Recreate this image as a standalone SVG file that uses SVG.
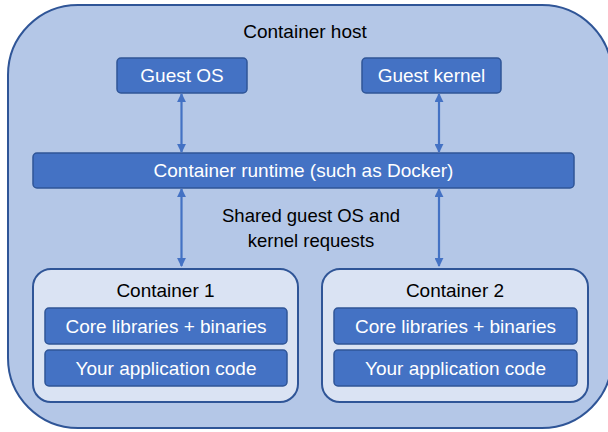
<svg xmlns="http://www.w3.org/2000/svg" width="608" height="432" viewBox="0 0 608 432">
<defs>
<style>
text{font-family:"Liberation Sans",Arial,sans-serif;font-size:19px;text-anchor:middle}
.dark{fill:#000}
.light{fill:#fff}
.box{fill:#4472c4;stroke:#2f5597;stroke-width:1.5}
.cont{fill:#dae3f3;stroke:#2f5597;stroke-width:2}
.conn{stroke:#4472c4;stroke-width:2.2;fill:none;marker-start:url(#ah);marker-end:url(#ah)}
</style>
<marker id="ah" viewBox="0 0 10 10" refX="9" refY="5" markerWidth="9" markerHeight="9" markerUnits="userSpaceOnUse" orient="auto-start-reverse">
<path d="M0,0 L10,5 L0,10 z" fill="#4472c4"/>
</marker>
</defs>
<g id="host">
<rect x="8" y="5" width="604" height="423" rx="70" ry="70" fill="#b4c7e7" stroke="#2f5597" stroke-width="2"/>
<text x="305" y="38" class="dark">Container host</text>
</g>
<g id="guest-os">
<rect class="box" x="117" y="58" width="130" height="35" rx="4"/>
<text x="182" y="82" class="light">Guest OS</text>
</g>
<g id="guest-kernel">
<rect class="box" x="362" y="58" width="139" height="35" rx="4"/>
<text x="431.5" y="82" class="light">Guest kernel</text>
</g>
<g id="runtime">
<rect class="box" x="33" y="153" width="541" height="35" rx="4"/>
<text x="303.5" y="176.5" class="light">Container runtime (such as Docker)</text>
</g>
<g id="shared-label">
<text x="311" y="222" class="dark" style="font-size:18.5px">Shared guest OS and</text>
<text x="311" y="247" class="dark" style="font-size:18.5px">kernel requests</text>
</g>
<g id="container1">
<rect class="cont" x="33" y="269" width="265" height="133" rx="18"/>
<text x="165.5" y="297" class="dark">Container 1</text>
<rect class="box" x="45" y="308" width="242" height="36" rx="4"/>
<text x="166" y="333" class="light">Core libraries + binaries</text>
<rect class="box" x="45" y="350" width="242" height="36" rx="4"/>
<text x="166" y="375" class="light">Your application code</text>
</g>
<g id="container2">
<rect class="cont" x="322" y="269" width="266" height="133" rx="18"/>
<text x="455" y="297" class="dark">Container 2</text>
<rect class="box" x="334" y="308" width="243" height="36" rx="4"/>
<text x="455.5" y="333" class="light">Core libraries + binaries</text>
<rect class="box" x="334" y="350" width="243" height="36" rx="4"/>
<text x="455.5" y="375" class="light">Your application code</text>
</g>
<g id="connectors">
<line class="conn" x1="181.5" y1="94" x2="181.5" y2="152"/>
<line class="conn" x1="439" y1="94" x2="439" y2="152"/>
<line class="conn" x1="181.5" y1="189" x2="181.5" y2="266"/>
<line class="conn" x1="439" y1="189" x2="439" y2="266"/>
</g>
</svg>
